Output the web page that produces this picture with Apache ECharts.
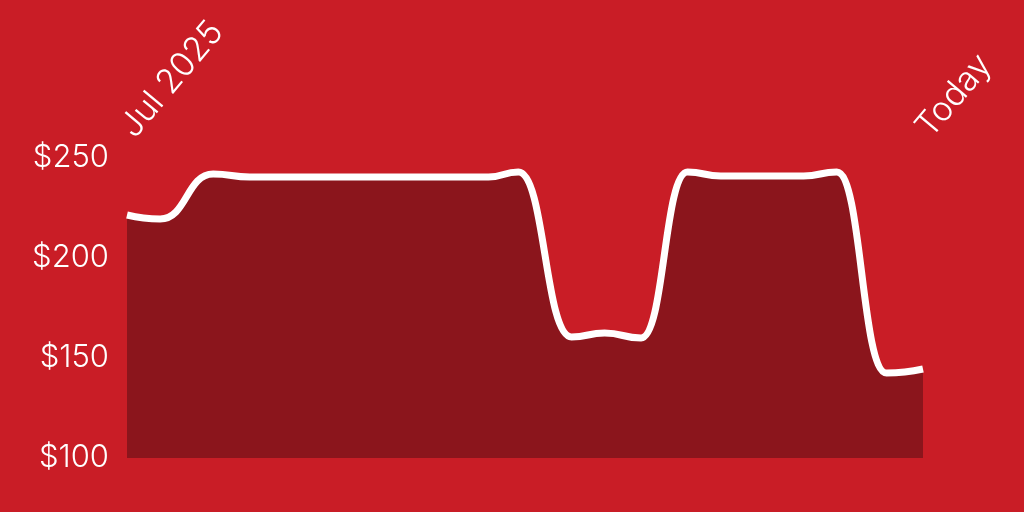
<!DOCTYPE html>
<html>
<head>
<meta charset="utf-8">
<script src="https://cdn.jsdelivr.net/npm/echarts@6/dist/echarts.min.js"></script>
<style>
html,body{margin:0;padding:0;background:#C91D26;}
#chart{width:1024px;height:512px;}
</style>
</head>
<body>
<div id="chart"></div>
<script>
// Days since 1 Jul 2025 and price in USD
const days   = [0, 10, 26, 37, 60, 85, 109, 118, 134, 144, 155, 169, 179, 191, 204, 214, 229, 240];
const prices = [221.5, 219.5, 242, 240.5, 240.5, 240.5, 240.5, 243, 160.5, 162.5, 160, 243, 241, 241, 241, 243, 142.5, 144.5];
const xLabels = ['Jul 2025', 'Today'];
const yTicks = [100, 150, 200, 250];

const chart = echarts.init(document.getElementById('chart'));
chart.setOption({
  backgroundColor: '#C91D26',
  animation: false,
  grid: { left: 127, right: 101, top: 158, bottom: 54, containLabel: false },
  xAxis: {
    type: 'value',
    position: 'top',
    min: days[0],
    max: days[days.length - 1],
    interval: days[days.length - 1] - days[0],
    axisLine: { show: false },
    axisTick: { show: false },
    splitLine: { show: false },
    axisLabel: {
      rotate: -50,
      margin: 25,
      color: '#FFFFFF',
      fontFamily: 'Inter',
      fontWeight: 300,
      fontSize: 34,
      showMinLabel: true,
      showMaxLabel: true,
      formatter: function (v) { return v === days[0] ? xLabels[0] : xLabels[1]; }
    }
  },
  yAxis: {
    type: 'value',
    min: yTicks[0],
    max: yTicks[yTicks.length - 1],
    interval: yTicks[1] - yTicks[0],
    axisLine: { show: false },
    axisTick: { show: false },
    splitLine: { show: false },
    axisLabel: {
      margin: 18,
      color: '#FFFFFF',
      fontFamily: 'Inter',
      fontWeight: 300,
      fontSize: 31,
      formatter: function (v) { return '$' + v; }
    }
  },
  series: [{
    type: 'line',
    data: days.map(function (d, i) { return [d, prices[i]]; }),
    smooth: 0.5,
    smoothMonotone: 'x',
    showSymbol: false,
    lineStyle: { color: '#FFFFFF', width: 7 },
    areaStyle: { color: '#8B151C', opacity: 1, origin: 'start' }
  }]
});
</script>
</body>
</html>
